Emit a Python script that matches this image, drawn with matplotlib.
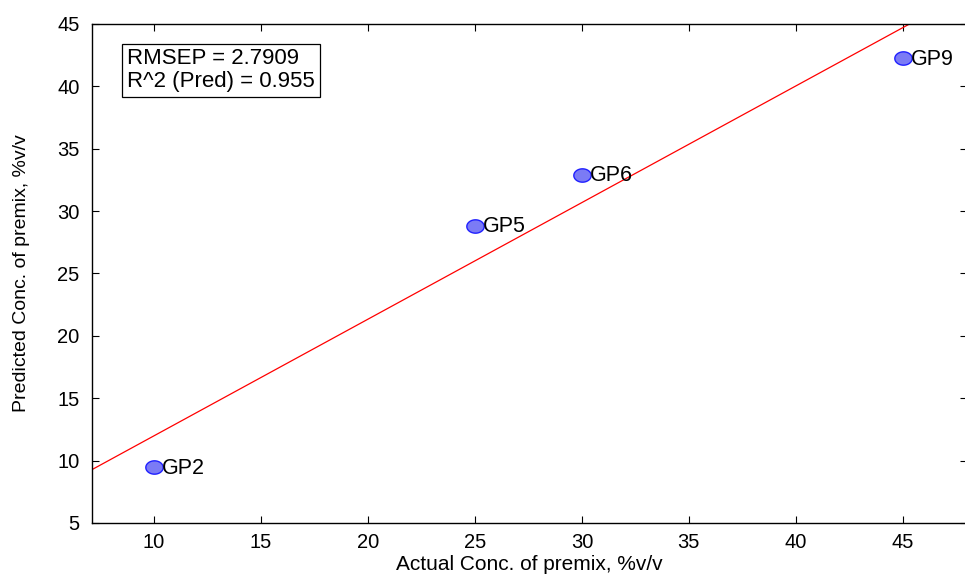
import numpy as np
import matplotlib
matplotlib.use("Agg")
import matplotlib.pyplot as plt
from matplotlib.path import Path

plt.rcParams['font.family'] = ['Liberation Sans', 'DejaVu Sans']

samples = ["GP2", "GP5", "GP6", "GP9"]
actual = [10, 25, 30, 45]
predicted = [9.45, 28.8, 32.9, 42.25]
x_ticks = [10, 15, 20, 25, 30, 35, 40, 45]
y_ticks = [5, 10, 15, 20, 25, 30, 35, 40, 45]
stats_text = "RMSEP = 2.7909\nR^2 (Pred) = 0.955"

fig = plt.figure(figsize=(9.65, 5.74), dpi=100)
ax = fig.add_axes([92/965, 1-523/574, 875/965, (523-24)/574])

slope, intercept = np.polyfit(actual, predicted, 1)
xl = np.array([7.1, 48])
ax.plot(xl, slope*xl + intercept, color='red', lw=0.9, zorder=2)

t = np.linspace(0, 2*np.pi, 60)
ellipse = Path(np.column_stack([1.3*np.cos(t), np.sin(t)]), closed=True)
ax.plot(actual, predicted, ls='none', marker=ellipse, ms=12.5, mfc='#7b7bf5', mec='#2020ff',
        mew=1.0, zorder=3)
for s, x, y in zip(samples, actual, predicted):
    ax.annotate(s, (x, y), xytext=(6, -0.5), textcoords='offset points',
                va='center', ha='left', fontsize=15.5)

ax.set_xlim(7.1, 48)
ax.set_ylim(5, 45)
ax.set_xticks(x_ticks)
ax.set_yticks(y_ticks)
ax.tick_params(direction='in', length=5, width=0.8, top=True, right=True, labelsize=14.5)
ax.tick_params(axis='x', pad=7)
ax.tick_params(axis='y', pad=9)
for sp in ax.spines.values():
    sp.set_linewidth(1.0)

ax.set_xlabel("Actual Conc. of premix, %v/v", fontsize=15, labelpad=2)
ax.set_ylabel("Predicted Conc. of premix, %v/v", fontsize=14)
ax.yaxis.set_label_coords(-0.071, 0.5)

ax.text(0.040, 0.951, stats_text, transform=ax.transAxes, va='top', ha='left',
        fontsize=16, linespacing=1.1,
        bbox=dict(boxstyle='square,pad=0.22', fc='white', ec='black', lw=0.9))

fig.savefig("out.png", dpi=100)
